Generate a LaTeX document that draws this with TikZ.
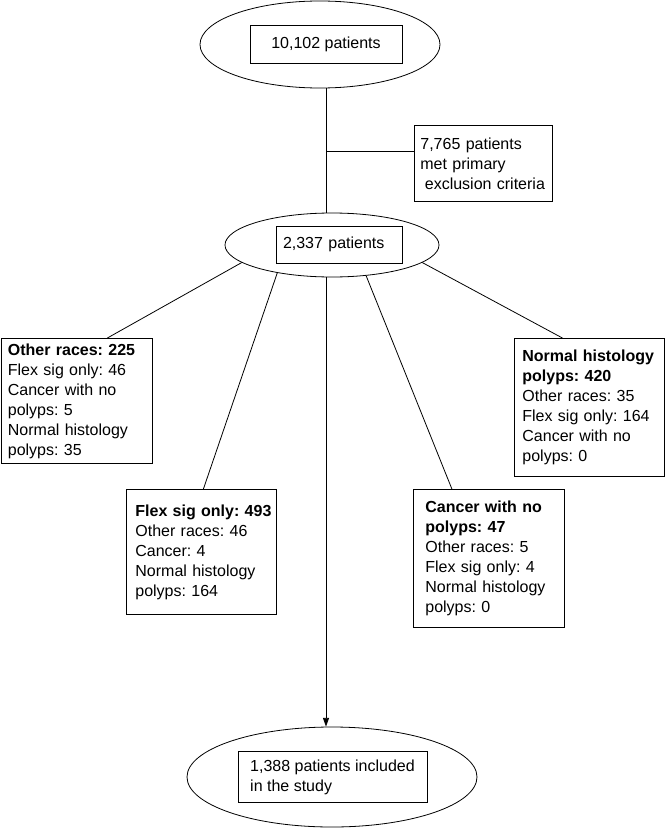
\documentclass[tikz,border=0pt]{standalone}
\usepackage{fontspec}
\setmainfont{Liberation Sans}
\usetikzlibrary{shapes.geometric,arrows.meta,calc}
\tikzset{
stage/.style={draw, ellipse, inner sep=0pt},
tally/.style={draw, rectangle, fill=white},
countbox/.style={draw, rectangle, align=left, anchor=north west, inner ysep=0pt}
}

\begin{document}
\begin{tikzpicture}[x=0.75pt, y=-0.75pt, line width=0.6pt, font=\fontsize{12}{15}\selectfont\frenchspacing]
	\useasboundingbox (0,0) rectangle (665,828);
	\node[stage, minimum width=180pt, minimum height=65.25pt] (top) at (320,44.5) {};
	\node[tally, minimum width=114pt, minimum height=28.5pt] (toprect) at (326,44) {10,102 patients};
	\node[stage, minimum width=160.5pt, minimum height=48pt] (mid) at (332,245) {};
	\node[tally, align=left, text width=84pt, inner xsep=5.25pt, minimum height=27.75pt] (midrect) at (339,244.5) {2,337 patients};
	\node[stage, minimum width=217.5pt, minimum height=75pt] (bot) at (332,777) {};
	\node[tally, align=left, minimum width=141.75pt, minimum height=38.25pt] (botrect) at (332.5,777) {1,388 patients included\\in the study};
	\node[countbox, text width=94.5pt, inner xsep=4.5pt, minimum height=57pt] (excl) at (414,125)
		{7,765 patients\\met primary\\\hspace*{0.28em}exclusion~criteria};
	\node[countbox, text width=102.75pt, inner xsep=5.25pt, minimum height=93.75pt] (other) at (0.5,338)
		{\textbf{Other races: 225}\\Flex sig only: 46\\Cancer with no\\polyps: 5\\Normal histology\\polyps: 35};
	\node[countbox, text width=99pt, inner xsep=6.75pt, minimum height=93.75pt] (flex) at (126,489)
		{\mbox{\textbf{Flex sig only: 493}}\\Other races: 46\\Cancer: 4\\Normal histology\\polyps: 164};
	\node[countbox, text width=95.25pt, inner xsep=9pt, minimum height=103.5pt] (cancer) at (413,489)
		{\textbf{Cancer with no}\\\textbf{polyps: 47}\\Other races: 5\\Flex sig only: 4\\Normal histology\\polyps: 0};
	\node[countbox, text width=100.5pt, inner xsep=6pt, minimum height=103.5pt] (normal) at (514,338)
		{\mbox{\textbf{Normal histology}}\\\textbf{polyps: 420}\\Other races: 35\\Flex sig only: 164\\Cancer with no\\polyps: 0};
	\coordinate (split) at (326,151);
	\draw (toprect.south |- top.south) -- (toprect.south |- mid.north);
	\draw (split) -- (split -| excl.west);
	\draw[-{Triangle[length=6.5pt,width=4.5pt]}] (split |- mid.south) -- (split |- bot.north);
	\draw (mid.191) -- ($(other.north)+(31,0)$);
	\draw (mid.207) -- ($(flex.north)+(2,0)$);
	\draw (mid.318) -- ($(cancer.north)+(-37,0)$);
	\draw (mid.349) -- ($(normal.north)+(-27,0)$);
\end{tikzpicture}
\end{document}
